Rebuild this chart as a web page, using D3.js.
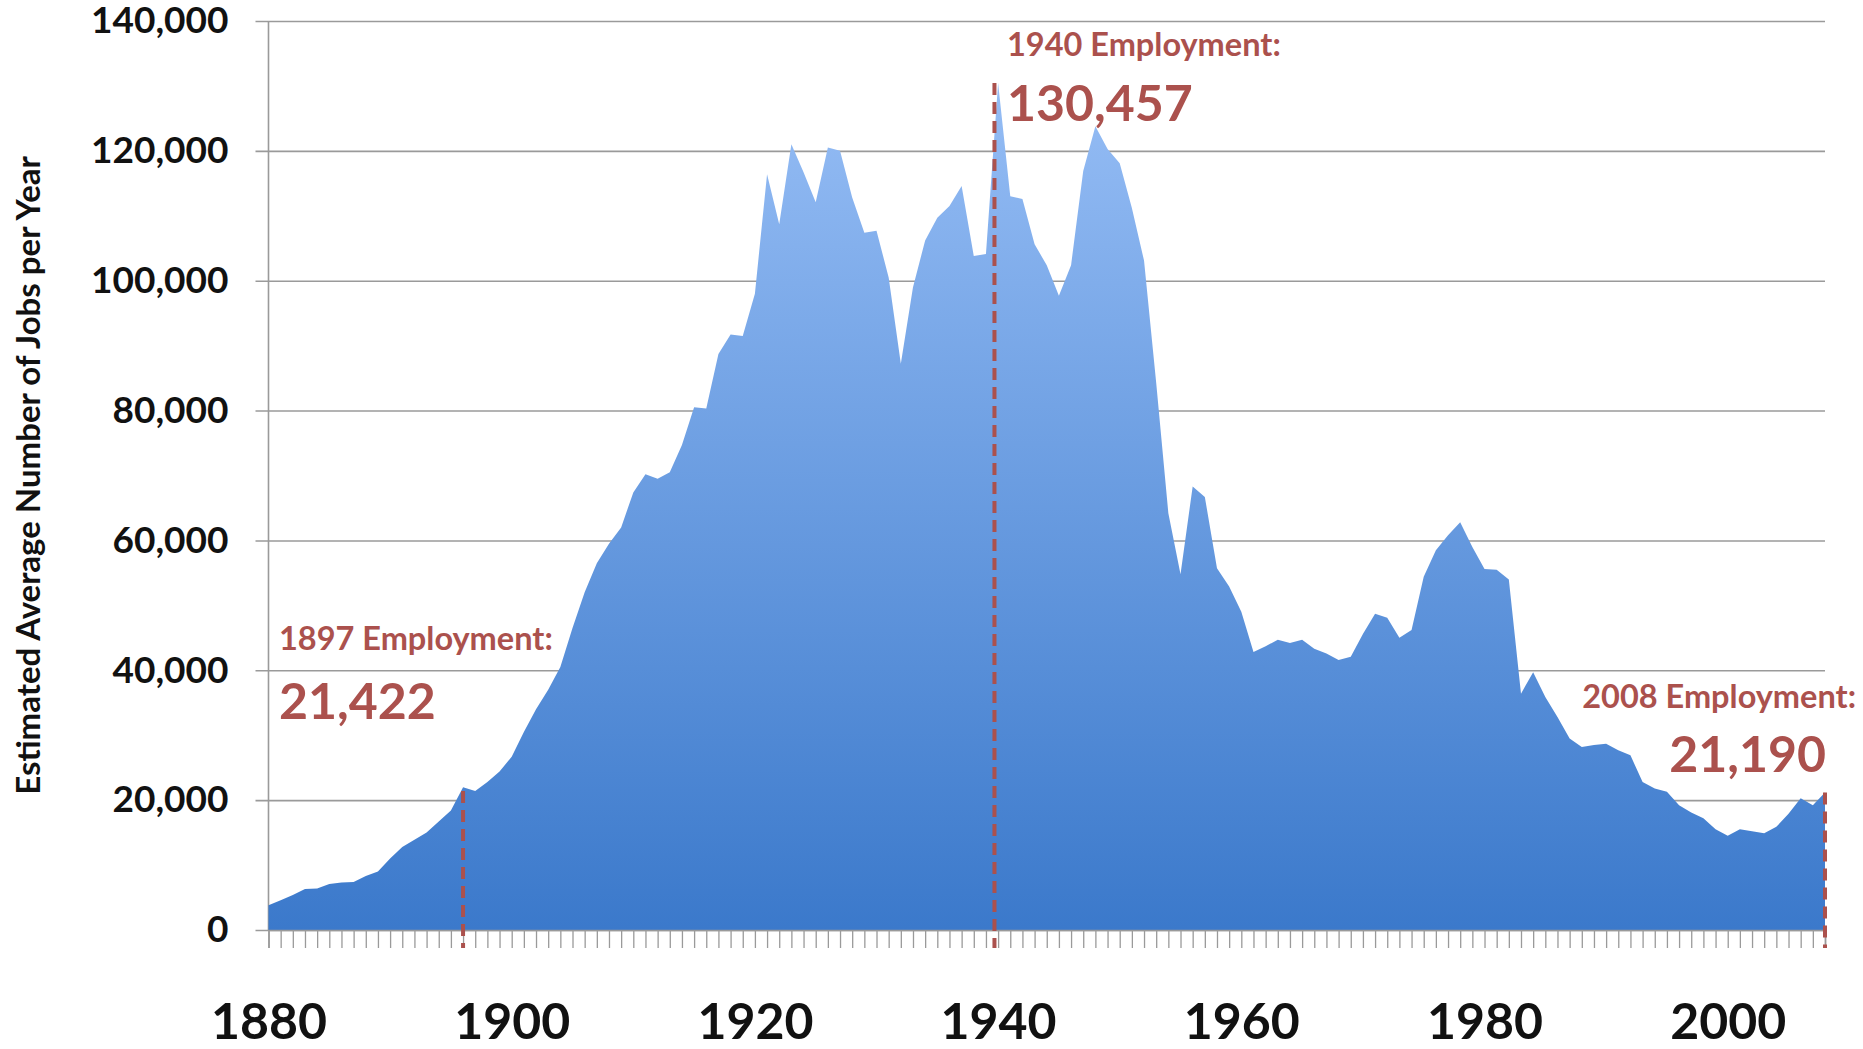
<!DOCTYPE html>
<html>
<head>
<meta charset="utf-8">
<script src="https://cdn.jsdelivr.net/npm/d3@7"></script>
<style>
  body { margin: 0; background: #fff; }
  text { font-family: Lato, "Open Sans", sans-serif; font-weight: bold; }
</style>
</head>
<body>
<div id="chart"></div>
<script>
// yearly estimates, 1880 - 2008
const years = d3.range(1880, 2009)
const jobs = [
  3800, 4600, 5400, 6300, 6400, 7100, 7300, 7400, 8300, 9000,
  11000, 12800, 13900, 15000, 16700, 18400, 22000, 21422, 22800, 24400,
  26700, 30500, 34000, 37000, 40500, 46500, 52000, 56500, 59500, 62000,
  67400, 70200, 69500, 70500, 74700, 80500, 80300, 88700, 91700, 91500,
  98000, 116400, 108700, 121000, 116700, 112100, 120500, 120000, 112800, 107400,
  107700, 100500, 87200, 99000, 106200, 109700, 111500, 114600, 103800, 104100,
  130457, 113000, 112600, 105600, 102400, 97700, 102400, 116900, 123800, 120300,
  118100, 111200, 103100, 84300, 64200, 54800, 68300, 66700, 55700, 52900,
  49000, 42800, 43700, 44700, 44200, 44700, 43300, 42600, 41600, 42100,
  45600, 48700, 48100, 45000, 46200, 54400, 58500, 60800, 62800, 59000,
  55600, 55500, 54000, 36400, 39700, 35900, 32800, 29500, 28200, 28500,
  28700, 27700, 26900, 22800, 21800, 21300, 19200, 18100, 17200, 15500,
  14500, 15500, 15200, 14900, 15900, 17900, 20300, 19200, 21190
]
const yTicks = [0, 20000, 40000, 60000, 80000, 100000, 120000, 140000]
const xLabels = [1880, 1900, 1920, 1940, 1960, 1980, 2000]

// annotations
const noteYears = [1897, 1940, 2008]
const noteLineYears = [1896, 1939.7, 2008]   // where the dashed markers sit in the original
const noteValues = [21422, 130457, 21190]

const W = 1863, H = 1049
const plotLeft = 268.5, plotRight = 1825, plotTop = 21, plotBottom = 930
const red = "#ab514d", grid = "#9a9a9a"

const svg = d3.select("#chart").append("svg")
  .attr("width", W).attr("height", H)
  .attr("viewBox", [0, 0, W, H])

const x = d3.scaleLinear().domain([1880, 2008]).range([plotLeft, plotRight])
const y = d3.scaleLinear().domain([0, 140000]).range([plotBottom, plotTop])

const grad = svg.append("defs").append("linearGradient")
  .attr("id", "fill").attr("gradientUnits", "userSpaceOnUse")
  .attr("x1", 0).attr("x2", 0).attr("y1", y(140000)).attr("y2", y(0))
grad.append("stop").attr("offset", "0%").attr("stop-color", "#9cc2f8")
grad.append("stop").attr("offset", "100%").attr("stop-color", "#3b79cb")

// value axis + gridlines
const yAxis = svg.append("g")
  .attr("transform", `translate(${plotLeft - 13},0)`)
  .call(d3.axisLeft(y).tickValues(yTicks).tickFormat(d3.format(","))
    .tickSize(-(plotRight - plotLeft + 13)).tickPadding(27))
yAxis.select(".domain").remove()
yAxis.selectAll("line").attr("stroke", grid).attr("stroke-width", 1.6)
yAxis.selectAll("text").attr("font-size", 37).attr("fill", "#111")

svg.append("line")
  .attr("x1", plotLeft).attr("x2", plotLeft).attr("y1", y(140000)).attr("y2", y(0))
  .attr("stroke", grid).attr("stroke-width", 1.6)

// area
const area = d3.area()
  .x((d, i) => x(years[i]))
  .y0(y(0))
  .y1(d => y(d))
svg.append("path").datum(jobs)
  .attr("d", area)
  .attr("fill", "url(#fill)")

// yearly ticks
const xTicks = svg.append("g")
  .attr("transform", `translate(0,${plotBottom})`)
  .call(d3.axisBottom(x).tickValues(years).tickSize(18).tickFormat(""))
xTicks.select(".domain").attr("stroke", grid).attr("stroke-width", 1.6)
xTicks.selectAll("line").attr("stroke", grid).attr("stroke-width", 1.3)

const xLab = svg.append("g")
  .attr("transform", `translate(0,${plotBottom})`)
  .call(d3.axisBottom(x).tickValues(xLabels).tickFormat(d3.format("d")).tickSize(0).tickPadding(73))
xLab.select(".domain").remove()
xLab.selectAll("text").attr("font-size", 50).attr("fill", "#111")

// y title
svg.append("text")
  .attr("transform", `translate(40,${(plotTop + plotBottom) / 2}) rotate(-90)`)
  .attr("text-anchor", "middle")
  .attr("font-size", 33)
  .attr("fill", "#111")
  .text("Estimated Average Number of Jobs per Year")

// dashed markers
svg.append("g").selectAll("line")
  .data(noteValues)
  .join("line")
    .attr("x1", (d, i) => x(noteLineYears[i]))
    .attr("x2", (d, i) => x(noteLineYears[i]))
    .attr("y1", d => y(d))
    .attr("y2", plotBottom + 18)
    .attr("stroke", red)
    .attr("stroke-width", 4)
    .attr("stroke-dasharray", "12,7")

// annotation text: [title x, title baseline, number x, number baseline, anchor]
const fmt = d3.format(",")
const notePlace = [
  [279, 650, 279, 719, "start"],
  [1007, 56, 1007, 121, "start"],
  [1856, 708, 1826, 772, "end"]
]
noteYears.forEach((yr, i) => {
  const p = notePlace[i]
  svg.append("text")
    .attr("x", p[0]).attr("y", p[1])
    .attr("text-anchor", p[4])
    .attr("font-size", 32.5)
    .attr("fill", red)
    .text(yr + " Employment:")
  svg.append("text")
    .attr("x", p[2]).attr("y", p[3])
    .attr("text-anchor", p[4])
    .attr("font-size", 50)
    .attr("fill", red)
    .text(fmt(noteValues[i]))
})
</script>
</body>
</html>
